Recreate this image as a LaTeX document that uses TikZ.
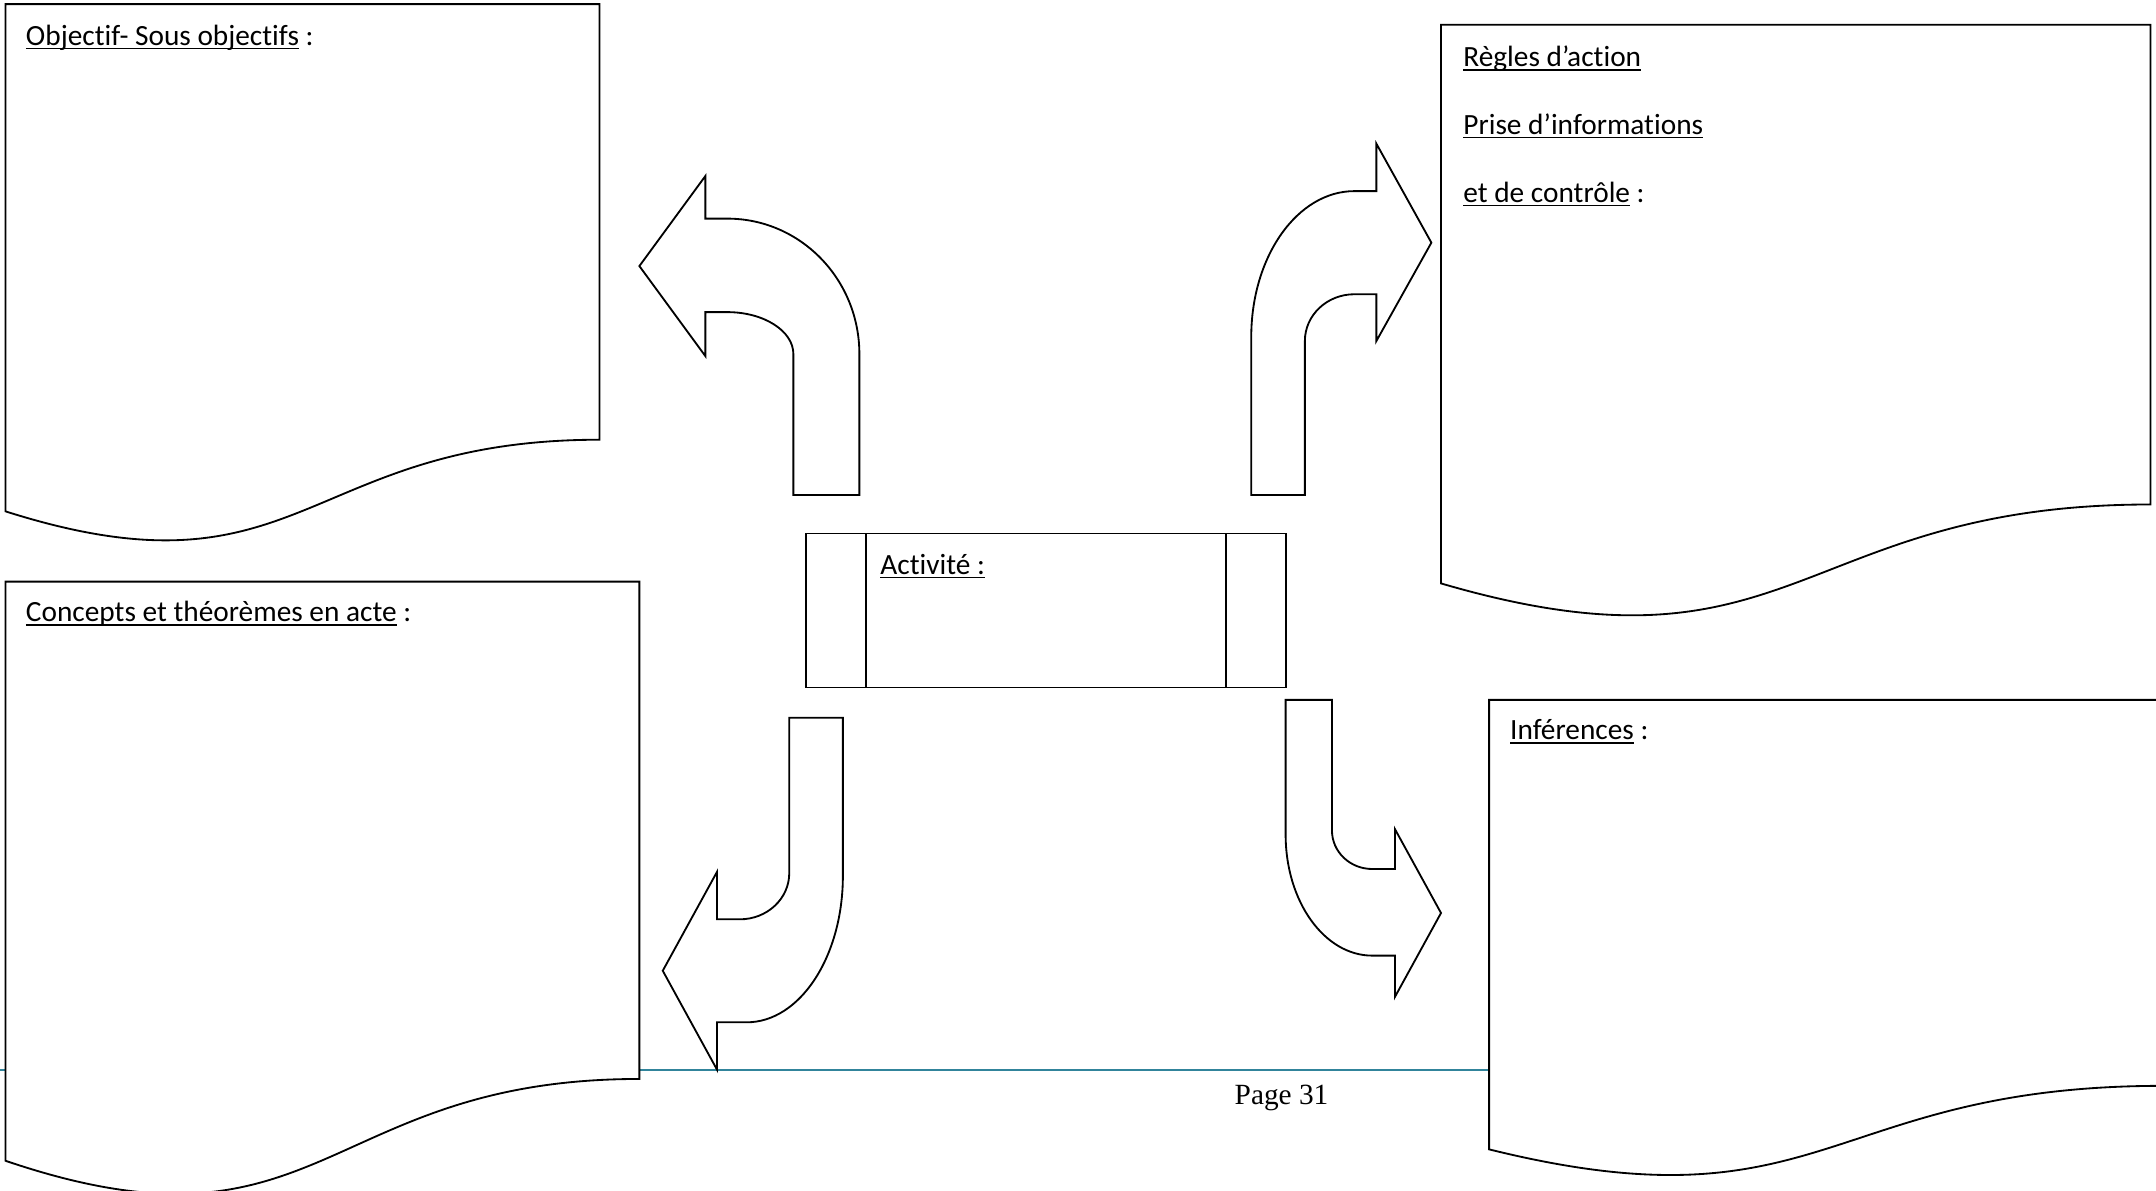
\documentclass[tikz,border=0pt]{standalone}
\usepackage{fontspec}
\setmainfont{Carlito}[Ligatures={NoCommon}]
\newfontfamily\pagefont{Liberation Serif}
\definecolor{footerblue}{RGB}{49,132,155}
\newlength\ulwd
\newcommand\wordul[1]{\settowidth{\ulwd}{#1}\rlap{\rule[-2.2pt]{\ulwd}{0.8pt}}#1}
\tikzset{
  shapeline/.style={draw=black, line width=1pt, fill=white, line join=miter},
  lbl/.style={anchor=base west, inner sep=0pt, font=\fontsize{16}{19}\selectfont}
}
\begin{document}
\begin{tikzpicture}[x=0.75pt,y=0.75pt,yscale=-1,xscale=1]
    \useasboundingbox (0,0) rectangle (1568,866);

    %Straight Lines: footer rule
    \draw [color=footerblue, line width=1.3pt] (0,778) -- (1083,778) ;

    %Shape: Document (objectifs)
    \draw [shapeline] (4,3) -- (436,3) -- (436,319.8) .. controls (220,319.8) and (220,440.5) .. (4,371.9) -- cycle ;
    %Shape: Document (regles)
    \draw [shapeline] (1048,18) -- (1564,18) -- (1564,366.9) .. controls (1306,366.9) and (1306,499.8) .. (1048,424.3) -- cycle ;
    %Shape: Document (concepts)
    \draw [shapeline] (4,423) -- (465,423) -- (465,784.7) .. controls (234.5,784.7) and (234.5,922.5) .. (4,844.2) -- cycle ;
    %Shape: Document (inferences)
    \draw [shapeline] (1083,509) -- (1573,509) -- (1573,789.7) .. controls (1328,789.7) and (1328,896.6) .. (1083,835.9) -- cycle ;

    %Shape: Predefined process (activite)
    \draw [shapeline] (586,388) rectangle (935,500) ;
    \draw [line width=1pt] (629.6,388) -- (629.6,500) (891.4,388) -- (891.4,500) ;

    %Shape: Bent Arrow (up, to the left)
    \draw [shapeline] (577,360) -- (625,360) -- (625,257.5) .. controls (625,203) and (582,159) .. (529,159) -- (513,159) -- (513,128) -- (465,193.5) -- (513,259) -- (513,227) -- (529,227) .. controls (555.5,227) and (577,240.7) .. (577,257.5) -- cycle ;
    %Shape: Bent Arrow (up, to the right)
    \draw [shapeline] (910,360) -- (910,245) .. controls (910,186.5) and (943.6,139) .. (985,139) -- (1001,139) -- (1001,104.5) -- (1041,176.5) -- (1001,248) -- (1001,214) -- (985,214) .. controls (965.1,214) and (949,229.2) .. (949,248) -- (949,360) -- cycle ;
    %Shape: Bent Arrow (down, to the left)
    \draw [shapeline] (574,522) -- (613,522) -- (613,637) .. controls (613,695.8) and (581.7,743.5) .. (543,743.5) -- (521.5,743.5) -- (521.5,778) -- (482,706) -- (521.5,634) -- (521.5,668.6) -- (538,668.6) .. controls (557.9,668.6) and (574,653.6) .. (574,635) -- cycle ;
    %Shape: Bent Arrow (down, to the right)
    \draw [shapeline] (935,509) -- (968.7,509) -- (968.7,604) .. controls (968.7,619.5) and (981.8,632) .. (998,632) -- (1014.5,632) -- (1014.5,603) -- (1048,664) -- (1014.5,725) -- (1014.5,695) -- (998,695) .. controls (963.2,695) and (935,655.6) .. (935,607) -- cycle ;

    % Text Node
    \node (objtxt) [lbl] at (18.6,33) {\wordul{Objectif- Sous objectifs} :};
    % Text Node
    \node (regtxt) [lbl] at (1064,48.5) {\wordul{Règles d’action}};
    % Text Node
    \node (prisetxt) [lbl] at (1064,97.5) {\wordul{Prise d’informations}};
    % Text Node
    \node (controletxt) [lbl] at (1064,147) {\wordul{et de contrôle} :};
    % Text Node
    \node (concepttxt) [lbl] at (18.6,452) {\wordul{Concepts et théorèmes en acte} :};
    % Text Node
    \node (activtxt) [lbl] at (640,417.5) {\wordul{Activité :}};
    % Text Node
    \node (inftxt) [lbl] at (1098,538) {\wordul{Inférences} :};
    % Text Node
    \node (pagetxt) [anchor=base west, inner sep=0pt, font=\pagefont\fontsize{16}{19}\selectfont] at (897.7,803) {Page 31};

\end{tikzpicture}
\end{document}
